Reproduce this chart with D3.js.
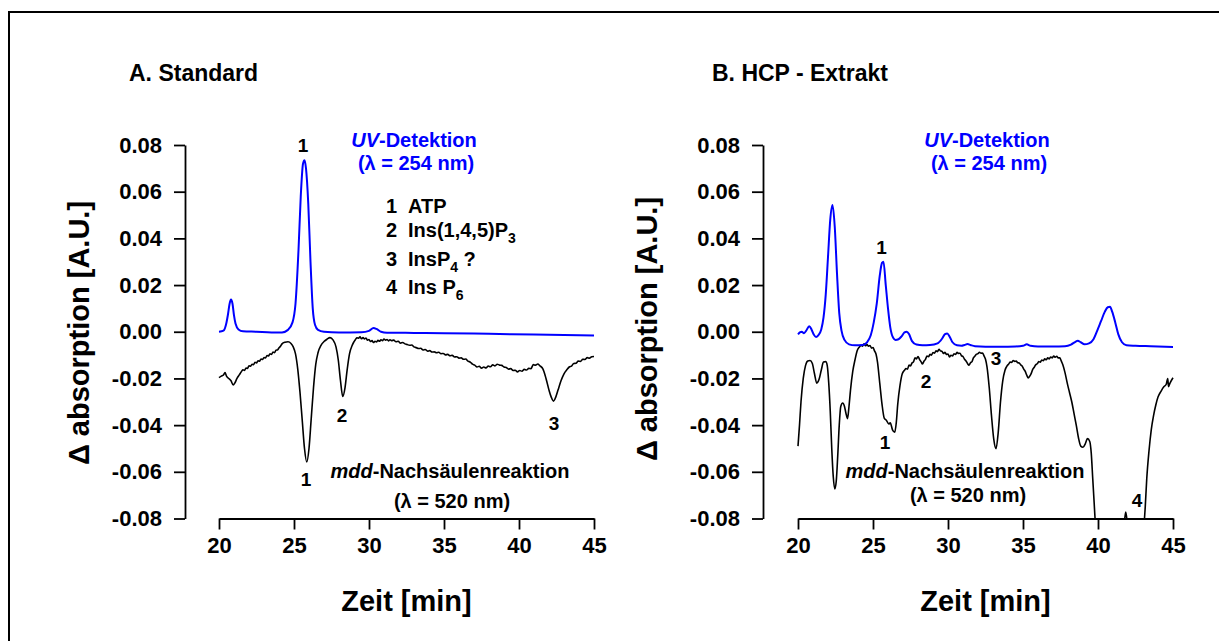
<!DOCTYPE html>
<html><head><meta charset="utf-8">
<script src="https://cdn.jsdelivr.net/npm/d3@7"></script>
<style>
html,body{margin:0;padding:0;background:#fff;}
svg{display:block;font-family:"Liberation Sans",Arial,sans-serif;font-weight:bold;}
</style></head>
<body><svg id="chart" width="1219" height="641"></svg>
<script>
// ---------- data ----------
const xTicks = [20, 25, 30, 35, 40, 45];
const yTicks = [-0.08, -0.06, -0.04, -0.02, 0.00, 0.02, 0.04, 0.06, 0.08];

// Panel A: Standard — UV detection (254 nm)
const uvA = [[20.0,0.0],[20.3,0.0005],[20.5,0.004],[20.6,0.0075],[20.7,0.0118],[20.8,0.0138],[20.9,0.012],[21.0,0.007],[21.1,0.0035],[21.3,0.001],[21.6,0.0002],[22.5,0.0],[23.5,-0.0003],[24.2,-0.0003],[24.6,0.0008],[24.9,0.004],[25.1,0.012],[25.3,0.035],[25.45,0.058],[25.6,0.072],[25.7,0.0735],[25.8,0.070],[25.95,0.055],[26.1,0.030],[26.25,0.010],[26.4,0.003],[26.6,0.0008],[27.0,0.0],[28.0,-0.0003],[29.5,-0.0002],[30.0,0.0004],[30.3,0.0016],[30.5,0.0012],[30.8,0.0],[31.2,-0.0004],[33,-0.0005],[35,-0.0006],[38,-0.0009],[41,-0.0012],[43,-0.0014],[45,-0.0016]];

// Panel A: Standard — mdd post-column reaction (520 nm)
const mddA = [[20.0,-0.0197],[20.15,-0.019],[20.3,-0.0185],[20.4,-0.0175],[20.5,-0.019],[20.65,-0.020],[20.8,-0.021],[20.95,-0.0228],[21.05,-0.022],[21.2,-0.020],[21.35,-0.0185],
[21.5,-0.017],[21.6,-0.0163],[21.7,-0.0166],[21.8,-0.0155],[21.9,-0.0157],[22.0,-0.0146],[22.1,-0.0148],[22.2,-0.0139],[22.3,-0.0141],[22.4,-0.0131],[22.5,-0.0134],[22.6,-0.0124],[22.7,-0.0126],[22.8,-0.0117],[22.9,-0.0119],[23.0,-0.011],[23.1,-0.0112],[23.2,-0.0102],[23.3,-0.0104],[23.4,-0.0094],[23.5,-0.0097],[23.6,-0.0087],[23.7,-0.009],[23.8,-0.0079],[23.9,-0.0078],[24.0,-0.0069],[24.1,-0.0062],[24.2,-0.0052],[24.4,-0.0045],[24.6,-0.0043],[24.8,-0.005],[24.95,-0.0065],[25.1,-0.0095],[25.25,-0.016],[25.4,-0.026],[25.55,-0.038],[25.7,-0.050],[25.85,-0.0558],[26.0,-0.050],[26.15,-0.037],[26.3,-0.024],[26.45,-0.014],[26.6,-0.009],[26.8,-0.0058],[27.0,-0.0042],[27.2,-0.0032],[27.4,-0.0025],[27.6,-0.0035],[27.8,-0.0065],[27.95,-0.012],[28.1,-0.021],[28.25,-0.0277],[28.4,-0.024],[28.55,-0.016],[28.7,-0.0095],[28.9,-0.0055],
[29.1,-0.0033],[29.2,-0.0026],[29.3,-0.0028],[29.4,-0.0022],[29.5,-0.003],[29.6,-0.0025],[29.7,-0.0031],[29.8,-0.0027],[29.9,-0.0036],[30.0,-0.0033],[30.1,-0.0042],[30.2,-0.0038],[30.3,-0.0046],[30.4,-0.0041],[30.5,-0.0044],[30.6,-0.0037],[30.7,-0.0041],[30.8,-0.0034],[30.9,-0.0038],[31.0,-0.0031],[31.1,-0.0036],[31.2,-0.0033],[31.3,-0.0039],[31.4,-0.0034],[31.5,-0.0038],[31.65,-0.0036],[31.8,-0.0043],[31.95,-0.0041],[32.1,-0.0049],[32.25,-0.0046],[32.4,-0.0052],[32.55,-0.0055],[32.7,-0.0058],[32.85,-0.0057],[33.0,-0.0065],[33.15,-0.0068],[33.3,-0.0072],[33.45,-0.0071],[33.6,-0.0078],[33.75,-0.0076],[33.9,-0.0083],[34.05,-0.0081],[34.2,-0.0087],[34.35,-0.0086],[34.5,-0.009],[34.65,-0.0088],[34.8,-0.0094],[34.95,-0.0093],[35.1,-0.0099],[35.25,-0.0097],[35.4,-0.0103],[35.55,-0.0101],[35.7,-0.0108],[35.85,-0.0107],[36.0,-0.0113],[36.15,-0.0112],[36.3,-0.0118],[36.45,-0.0117],[36.6,-0.0126],[36.75,-0.013],[36.9,-0.0139],[37.05,-0.0143],[37.2,-0.0151],[37.35,-0.0148],[37.5,-0.0156],[37.65,-0.0151],[37.8,-0.0155],[37.95,-0.0147],[38.1,-0.015],[38.25,-0.0142],[38.4,-0.0146],[38.55,-0.0139],[38.7,-0.0143],[38.85,-0.0144],[39.0,-0.0151],[39.15,-0.0153],[39.3,-0.016],[39.45,-0.0158],[39.6,-0.0166],[39.75,-0.0165],[39.9,-0.0172],[40.05,-0.0166],[40.2,-0.0169],[40.35,-0.0161],[40.5,-0.0164],[40.65,-0.0157],[40.8,-0.0158],[40.95,-0.0141],[41.1,-0.0143],[41.25,-0.0138],[41.4,-0.0146],[41.6,-0.016],
[41.8,-0.020],[42.0,-0.025],[42.15,-0.028],[42.3,-0.0297],[42.45,-0.028],[42.6,-0.025],[42.8,-0.021],[43.0,-0.018],[43.2,-0.0162],[43.35,-0.0151],[43.5,-0.0147],[43.65,-0.0136],[43.8,-0.0135],[43.95,-0.0126],[44.1,-0.0127],[44.25,-0.0118],[44.4,-0.0119],[44.55,-0.0111],[44.7,-0.0113],[44.85,-0.0107],[45.0,-0.0106]];

// Panel B: HCP extract — UV detection (254 nm)
const uvB = [[20.0,-0.0011],[20.15,-0.0002],[20.25,0.0],[20.4,-0.0006],[20.55,0.0005],[20.75,0.0024],[20.9,0.001],[21.05,-0.0012],[21.2,-0.0022],[21.35,-0.0015],[21.55,0.001],[21.7,0.006],[21.85,0.016],[22.0,0.032],[22.15,0.048],[22.3,0.0543],[22.45,0.045],[22.6,0.025],[22.75,0.008],[22.9,0.0005],[23.1,-0.0035],[23.4,-0.0054],[23.8,-0.0058],[24.3,-0.0057],[24.6,-0.0045],[24.85,-0.0015],[25.05,0.004],[25.25,0.012],[25.45,0.024],[25.6,0.0295],[25.7,0.030],[25.85,0.020],[26.0,0.010],[26.15,0.002],[26.3,-0.002],[26.5,-0.0035],[26.7,-0.0032],[26.9,-0.002],[27.1,-0.0003],[27.25,0.0],[27.4,-0.001],[27.6,-0.004],[27.9,-0.0055],[28.3,-0.0058],[28.8,-0.0057],[29.3,-0.005],[29.6,-0.003],[29.8,-0.001],[29.95,-0.0007],[30.1,-0.002],[30.3,-0.0045],[30.6,-0.0058],[30.9,-0.006],[31.1,-0.0057],[31.3,-0.0053],[31.5,-0.0057],[31.8,-0.0062],[32.5,-0.0064],[33.5,-0.0064],[34.5,-0.0063],[35.0,-0.006],[35.25,-0.0054],[35.5,-0.006],[36.0,-0.0063],[37.0,-0.0063],[37.8,-0.0062],[38.2,-0.0055],[38.5,-0.0043],[38.65,-0.0039],[38.85,-0.0045],[39.1,-0.0054],[39.4,-0.005],[39.7,-0.0032],[39.95,0.0005],[40.2,0.0045],[40.45,0.0085],[40.65,0.0105],[40.8,0.0107],[40.95,0.0085],[41.15,0.004],[41.35,-0.001],[41.6,-0.0045],[41.9,-0.0058],[42.5,-0.006],[43.5,-0.0062],[45.0,-0.0065]];

// Panel B: HCP extract — mdd post-column reaction (520 nm)
const mddB = [[20.0,-0.049],[20.1,-0.040],[20.2,-0.030],[20.35,-0.020],[20.5,-0.0145],[20.65,-0.0125],[20.8,-0.0123],[20.95,-0.0135],[21.1,-0.018],[21.25,-0.022],[21.4,-0.0205],[21.55,-0.0165],[21.7,-0.013],[21.85,-0.0128],[21.95,-0.0145],[22.05,-0.022],[22.15,-0.034],[22.25,-0.050],[22.35,-0.062],[22.45,-0.0673],[22.55,-0.064],[22.65,-0.053],[22.75,-0.040],[22.85,-0.032],[22.98,-0.0305],[23.1,-0.032],[23.2,-0.035],[23.3,-0.0372],[23.4,-0.032],[23.5,-0.025],[23.65,-0.017],[23.8,-0.012],[23.95,-0.008],
[24.1,-0.0065],[24.2,-0.0058],[24.3,-0.0062],[24.4,-0.0052],[24.5,-0.006],[24.6,-0.0055],[24.7,-0.0062],[24.8,-0.0059],[24.9,-0.007],[25.0,-0.0068],[25.1,-0.0082],[25.2,-0.0095],[25.3,-0.013],[25.45,-0.022],[25.6,-0.031],[25.75,-0.037],[25.9,-0.038],[26.05,-0.0395],[26.15,-0.039],[26.3,-0.042],[26.45,-0.043],[26.55,-0.039],[26.65,-0.031],[26.8,-0.023],[26.95,-0.018],
[27.1,-0.0165],[27.2,-0.0158],[27.3,-0.016],[27.4,-0.0143],[27.5,-0.0146],[27.6,-0.0134],[27.7,-0.0129],[27.8,-0.0112],[27.9,-0.0116],[28.0,-0.0106],[28.1,-0.0118],[28.2,-0.0128],[28.3,-0.0138],[28.4,-0.0126],[28.5,-0.0118],[28.6,-0.0104],[28.7,-0.0107],[28.8,-0.0097],[28.9,-0.01],[29.0,-0.0089],[29.1,-0.0092],[29.2,-0.0082],[29.3,-0.0085],[29.4,-0.0075],[29.5,-0.0082],[29.6,-0.0084],[29.7,-0.0093],[29.8,-0.0088],[29.9,-0.0097],[30.0,-0.0095],[30.1,-0.0108],[30.2,-0.0101],[30.3,-0.0104],[30.4,-0.0094],[30.5,-0.0097],[30.6,-0.0088],[30.7,-0.0093],[30.8,-0.0092],[30.9,-0.0103],[31.0,-0.0106],[31.1,-0.0118],[31.2,-0.0125],[31.3,-0.0136],[31.4,-0.0143],[31.5,-0.0133],[31.6,-0.0128],[31.7,-0.0111],[31.8,-0.0104],[31.9,-0.0096],[32.0,-0.0094],[32.1,-0.0088],[32.2,-0.0092],[32.3,-0.0091],[32.4,-0.0103],[32.5,-0.0118],
[32.6,-0.015],[32.75,-0.024],[32.9,-0.036],[33.05,-0.046],[33.2,-0.0501],[33.35,-0.043],[33.5,-0.030],[33.65,-0.021],[33.8,-0.0165],[33.95,-0.0145],[34.05,-0.0138],[34.15,-0.013],[34.25,-0.0131],[34.35,-0.0123],[34.45,-0.0127],[34.55,-0.0126],[34.65,-0.0133],[34.75,-0.0134],[34.85,-0.0142],[34.95,-0.0148],[35.05,-0.016],[35.15,-0.017],[35.25,-0.0186],[35.35,-0.0198],[35.45,-0.019],[35.55,-0.0178],[35.65,-0.0161],[35.75,-0.0152],[35.85,-0.0141],[35.95,-0.0137],[36.05,-0.0128],[36.15,-0.013],[36.25,-0.0121],[36.35,-0.0124],[36.45,-0.0116],[36.55,-0.012],[36.65,-0.0112],[36.75,-0.0116],[36.85,-0.0108],[36.95,-0.0112],[37.05,-0.0104],[37.15,-0.0109],[37.25,-0.0105],[37.35,-0.0112],[37.45,-0.0112],[37.55,-0.0125],[37.65,-0.014],
[37.8,-0.0175],[37.95,-0.022],[38.1,-0.026],[38.25,-0.030],[38.4,-0.035],[38.55,-0.040],[38.7,-0.0455],[38.85,-0.049],[39.0,-0.0495],[39.15,-0.048],[39.3,-0.0458],[39.45,-0.047],[39.55,-0.052],[39.65,-0.063],[39.75,-0.074],[39.85,-0.085],[40.0,-0.095],[40.5,-0.11],[41.0,-0.11],[41.5,-0.095],[41.75,-0.082],[41.85,-0.0772],[41.95,-0.082],[42.3,-0.11],[42.8,-0.10],[43.05,-0.085],[43.15,-0.075],[43.25,-0.063],[43.4,-0.051],[43.55,-0.042],[43.7,-0.036],[43.85,-0.0315],[44.0,-0.028],[44.2,-0.0255],[44.4,-0.0235],[44.55,-0.0225],[44.65,-0.020],[44.7,-0.0235],[44.8,-0.022],[45.0,-0.0197]];

const legendItems = [["1", "ATP", null], ["2", "Ins(1,4,5)P", "3"], ["3", "InsP", "4", " ?"], ["4", "Ins P", "6"]];

// ---------- drawing ----------
const svg = d3.select("#chart");
const BLUE = "#0000ff";

// outer frame (open on right & bottom, cropped figure)
svg.append("rect").attr("x", 9).attr("y", 12).attr("width", 1300).attr("height", 700)
  .attr("fill", "none").attr("stroke", "#000").attr("stroke-width", 2);

const y = d3.scaleLinear().domain([-0.08, 0.08]).range([518.5, 145]);

const panels = [
  { id: "A", title: "A. Standard", titleX: 129, xr: [219, 594], yAxisX: 185, yLabelX: 89, yLabelY: 333,
    uv: uvA, mdd: mddA },
  { id: "B", title: "B. HCP - Extrakt", titleX: 712, xr: [798, 1173], yAxisX: 763, yLabelX: 657, yLabelY: 329,
    uv: uvB, mdd: mddB }
];

panels.forEach(p => {
  const x = d3.scaleLinear().domain([20, 45]).range(p.xr);
  p.x = x;
  const g = svg.append("g");

  g.append("clipPath").attr("id", "clip" + p.id).append("rect")
    .attr("x", p.xr[0] - 2).attr("y", 100).attr("width", p.xr[1] - p.xr[0] + 6).attr("height", y(-0.08) - 100);

  const line = d3.line().x(d => x(d[0])).y(d => y(d[1])).curve(d3.curveMonotoneX);

  g.append("path").datum(p.mdd).attr("d", line).attr("clip-path", `url(#clip${p.id})`)
    .attr("fill", "none").attr("stroke", "#000").attr("stroke-width", 1.6).attr("stroke-linejoin", "round");
  g.append("path").datum(p.uv).attr("d", line).attr("clip-path", `url(#clip${p.id})`)
    .attr("fill", "none").attr("stroke", BLUE).attr("stroke-width", 2).attr("stroke-linejoin", "round");

  const yAxis = d3.axisLeft(y).tickValues(yTicks).tickSize(11).tickSizeOuter(0).tickPadding(12)
    .tickFormat(d => d.toFixed(2));
  const ya = g.append("g").attr("transform", `translate(${p.yAxisX},0)`).call(yAxis);
  const xAxis = d3.axisBottom(x).tickValues(xTicks).tickSize(11).tickSizeOuter(0).tickPadding(8)
    .tickFormat(d3.format("d"));
  const xa = g.append("g").attr("transform", `translate(0,${y(-0.08)})`).call(xAxis);
  [ya, xa].forEach(a => {
    a.selectAll("path,line").attr("stroke", "#000").attr("stroke-width", 1.8);
    a.selectAll("text").attr("fill", "#000").style("font-size", "22px").style("font-weight", "bold")
      .style("font-family", '"Liberation Sans",Arial,sans-serif');
  });

  g.append("text").attr("x", p.titleX).attr("y", 80.5).style("font-size", "23px").text(p.title);
  g.append("text").attr("transform", `translate(${p.yLabelX},${p.yLabelY}) rotate(-90)`)
    .attr("text-anchor", "middle").style("font-size", "29px").text("Δ absorption [A.U.]");
  g.append("text").attr("x", (p.xr[0] + p.xr[1]) / 2).attr("y", 611)
    .attr("text-anchor", "middle").style("font-size", "29px").text("Zeit [min]");
});

function label(px, py, txt, opts = {}) {
  return svg.append("text").attr("x", px).attr("y", py).attr("text-anchor", opts.anchor || "middle")
    .attr("fill", opts.fill || "#000").style("font-size", (opts.size || 20) + "px").text(txt);
}
function uvTitle(cx) {
  const t = svg.append("text").attr("x", cx).attr("y", 147).attr("text-anchor", "middle")
    .attr("fill", BLUE).style("font-size", "20px");
  t.append("tspan").style("font-style", "italic").text("UV");
  t.append("tspan").text("-Detektion");
  label(cx + 2, 170, "(λ = 254 nm)", { fill: BLUE });
}
function mddTitle(cx, y1, cx2, y2) {
  const t = svg.append("text").attr("x", cx).attr("y", y1).attr("text-anchor", "middle")
    .style("font-size", "20px");
  t.append("tspan").style("font-style", "italic").text("mdd");
  t.append("tspan").text("-Nachsäulenreaktion");
  label(cx2, y2, "(λ = 520 nm)");
}

// Panel A annotations
uvTitle(414);
label(303, 152, "1", { size: 19 });
label(306, 486, "1", { size: 19 });
label(342, 422, "2", { size: 19 });
label(554, 430, "3", { size: 19 });
mddTitle(450, 478, 452, 508);
const legY = [213, 237, 265.5, 294];
legendItems.forEach((it, i) => {
  label(386, legY[i], it[0], { anchor: "start" });
  const t = svg.append("text").attr("x", 408).attr("y", legY[i]).style("font-size", "20px");
  t.append("tspan").text(it[1]);
  if (it[2]) t.append("tspan").attr("dy", 6).style("font-size", "14px").text(it[2]);
  if (it[3]) t.append("tspan").attr("dy", -6).text(it[3]);
});

// Panel B annotations
uvTitle(987);
label(881.5, 254, "1", { size: 19 });
label(885, 449, "1", { size: 19 });
label(926, 388, "2", { size: 19 });
label(996, 365, "3", { size: 19 });
label(1137, 507, "4", { size: 19 });
mddTitle(965, 478, 968, 502);
</script></body></html>
